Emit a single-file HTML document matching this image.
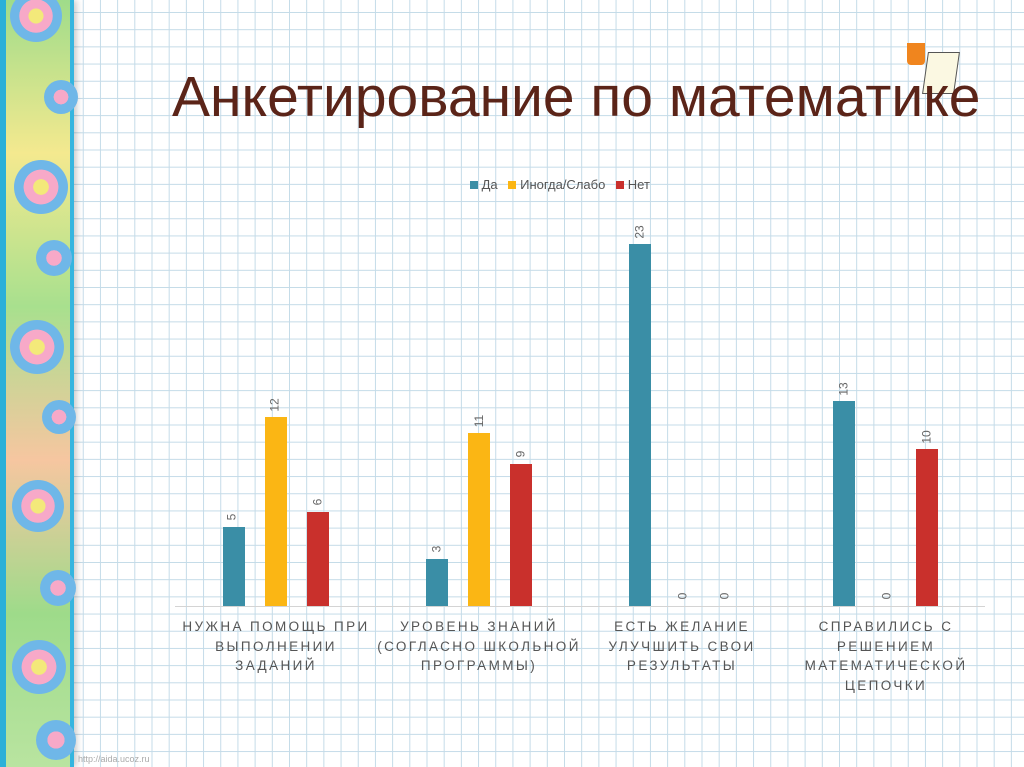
<!DOCTYPE html>
<html><head><meta charset="utf-8"><style>
html,body{margin:0;padding:0}
body{width:1024px;height:767px;position:relative;overflow:hidden;font-family:"Liberation Sans","DejaVu Sans",sans-serif;
background-color:#fff;
background-image:linear-gradient(to right,#c4dbe8 1px,transparent 1px),linear-gradient(to bottom,#c4dbe8 1px,transparent 1px);
background-size:17.2px 17.2px;background-position:14px 12px;}
.strip{position:absolute;left:0;top:0;width:74px;height:767px;background:linear-gradient(180deg,#9fdc8a,#f4e98f 20%,#a8e08e 40%,#f6c6a0 60%,#9edb8a 80%,#b9e4a0);border-left:6px solid #2bb0d8;border-right:4px solid #35b5df;box-sizing:border-box;box-shadow:3px 0 6px rgba(0,0,0,.2)}
.c{position:absolute;border-radius:50%}
.t{position:absolute;font-size:13.5px;color:#555;letter-spacing:2.4px;text-align:center;width:200px;line-height:19.5px;box-sizing:border-box}
.v{position:absolute;font-size:12px;color:#666;transform:rotate(-90deg);transform-origin:center}
</style></head><body>
<div class="strip">
<div class="c" style="left:4px;top:-10px;width:52px;height:52px;background:radial-gradient(circle,#f3e97a 20%,#f7a9c8 21%,#f7a9c8 45%,#6fb7e8 46%)"></div>
<div class="c" style="left:38px;top:80px;width:34px;height:34px;background:radial-gradient(circle,#f7a9c8 30%,#6fb7e8 31%)"></div>
<div class="c" style="left:8px;top:160px;width:54px;height:54px;background:radial-gradient(circle,#f3e97a 20%,#f7a9c8 21%,#f7a9c8 45%,#6fb7e8 46%)"></div>
<div class="c" style="left:30px;top:240px;width:36px;height:36px;background:radial-gradient(circle,#f7a9c8 30%,#6fb7e8 31%)"></div>
<div class="c" style="left:4px;top:320px;width:54px;height:54px;background:radial-gradient(circle,#f3e97a 20%,#f7a9c8 21%,#f7a9c8 45%,#6fb7e8 46%)"></div>
<div class="c" style="left:36px;top:400px;width:34px;height:34px;background:radial-gradient(circle,#f7a9c8 30%,#6fb7e8 31%)"></div>
<div class="c" style="left:6px;top:480px;width:52px;height:52px;background:radial-gradient(circle,#f3e97a 20%,#f7a9c8 21%,#f7a9c8 45%,#6fb7e8 46%)"></div>
<div class="c" style="left:34px;top:570px;width:36px;height:36px;background:radial-gradient(circle,#f7a9c8 30%,#6fb7e8 31%)"></div>
<div class="c" style="left:6px;top:640px;width:54px;height:54px;background:radial-gradient(circle,#f3e97a 20%,#f7a9c8 21%,#f7a9c8 45%,#6fb7e8 46%)"></div>
<div class="c" style="left:30px;top:720px;width:40px;height:40px;background:radial-gradient(circle,#f7a9c8 30%,#6fb7e8 31%)"></div>
</div>
<div style="position:absolute;left:925px;top:52px;width:30px;height:40px;background:#fbf8e2;border:1px solid #555;transform:skewX(-8deg)"></div>
<div style="position:absolute;left:907px;top:43px;width:18px;height:22px;background:#f0851e;border-radius:0 0 4px 4px"></div>
<div style="position:absolute;left:172px;top:64px;font-size:57px;color:#5b2418;white-space:nowrap">Анкетирование по математике</div>
<div style="position:absolute;left:470px;top:177px;font-size:13px;color:#555;white-space:nowrap">
<span style="display:inline-block;width:8px;height:8px;background:#3a8ea6"></span> Да &nbsp; <span style="display:inline-block;width:8px;height:8px;background:#fbb614"></span> Иногда/Слабо &nbsp; <span style="display:inline-block;width:8px;height:8px;background:#c9302c"></span> Нет</div>
<div style="position:absolute;left:175px;top:606px;width:810px;height:1px;background:#d4d4d4"></div>
<div style="position:absolute;left:223px;top:527px;width:22px;height:79px;background:#3a8ea6"></div>
<div style="position:absolute;left:265px;top:417px;width:22px;height:189px;background:#fbb614"></div>
<div style="position:absolute;left:307px;top:512px;width:22px;height:94px;background:#c9302c"></div>
<div style="position:absolute;left:426px;top:559px;width:22px;height:47px;background:#3a8ea6"></div>
<div style="position:absolute;left:468px;top:433px;width:22px;height:173px;background:#fbb614"></div>
<div style="position:absolute;left:510px;top:464px;width:22px;height:142px;background:#c9302c"></div>
<div style="position:absolute;left:629px;top:244px;width:22px;height:362px;background:#3a8ea6"></div>
<div style="position:absolute;left:833px;top:401px;width:22px;height:205px;background:#3a8ea6"></div>
<div style="position:absolute;left:916px;top:449px;width:22px;height:157px;background:#c9302c"></div>
<div class="v" style="left:228px;top:510px">5</div>
<div class="v" style="left:268px;top:398px">12</div>
<div class="v" style="left:314px;top:495px">6</div>
<div class="v" style="left:433px;top:542px">3</div>
<div class="v" style="left:473px;top:414px">11</div>
<div class="v" style="left:517px;top:447px">9</div>
<div class="v" style="left:633px;top:225px">23</div>
<div class="v" style="left:679px;top:589px">0</div>
<div class="v" style="left:721px;top:589px">0</div>
<div class="v" style="left:837px;top:382px">13</div>
<div class="v" style="left:883px;top:589px">0</div>
<div class="v" style="left:920px;top:430px">10</div>
<div class="t" style="left:176px;top:617px;padding:0 2px">НУЖНА ПОМОЩЬ ПРИ ВЫПОЛНЕНИИ ЗАДАНИЙ</div>
<div class="t" style="left:374px;top:617px;width:210px">УРОВЕНЬ ЗНАНИЙ (СОГЛАСНО ШКОЛЬНОЙ ПРОГРАММЫ)</div>
<div class="t" style="left:582px;top:617px;padding:0 12px">ЕСТЬ ЖЕЛАНИЕ УЛУЧШИТЬ СВОИ РЕЗУЛЬТАТЫ</div>
<div class="t" style="left:786px;top:617px;padding:0 14px">СПРАВИЛИСЬ С РЕШЕНИЕМ МАТЕМАТИЧЕСКОЙ ЦЕПОЧКИ</div>
<div style="position:absolute;left:78px;top:754px;font-size:9px;color:#aaa">http://aida.ucoz.ru</div>
</body></html>
